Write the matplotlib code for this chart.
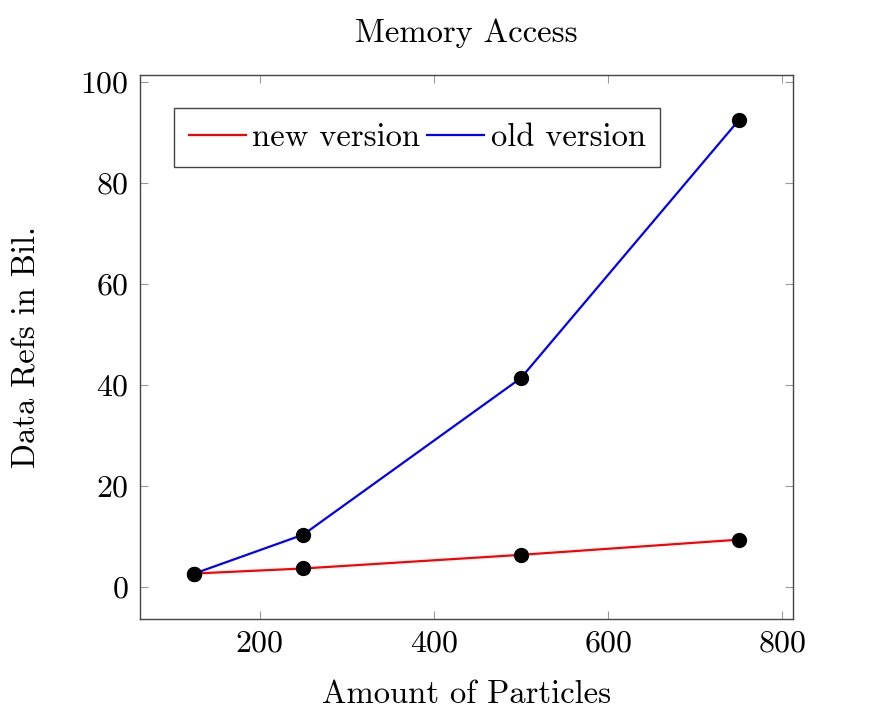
import matplotlib.pyplot as plt

plt.rcParams['font.family'] = 'serif'
plt.rcParams['font.serif'] = ['cmr10']
plt.rcParams['axes.formatter.use_mathtext'] = True
plt.rcParams['mathtext.fontset'] = 'cm'

# Data
particles = [125, 250, 500, 750]
new_version = [2.6, 3.6, 6.3, 9.3]
old_version = [2.6, 10.3, 41.3, 92.3]

xticks = [200, 400, 600, 800]
yticks = [0, 20, 40, 60, 80, 100]

fig = plt.figure(figsize=(8.83, 7.18), dpi=100)
ax = fig.add_axes([0.1586, 0.1379, 0.7394, 0.7576])

ax.plot(particles, new_version, color='red', lw=1.6, label='new version')
ax.plot(particles, old_version, color='blue', lw=1.6, label='old version')
ax.plot(particles, new_version, 'o', color='black', ms=10, zorder=3)
ax.plot(particles, old_version, 'o', color='black', ms=10, zorder=3)

ax.set_xlim(62.5, 812.5)
ax.set_ylim(-6.4, 101.3)
ax.set_xticks(xticks)
ax.set_yticks(yticks)
ax.tick_params(direction='in', top=True, right=True, length=6, color='#999999',
               labelsize=23, pad=8)
for s in ax.spines.values():
    s.set_color('#444444')
    s.set_linewidth(1.0)

ax.set_title('Memory Access', fontsize=23.5, pad=24)
ax.set_xlabel('Amount of Particles', fontsize=23.5, labelpad=16)
ax.set_ylabel('Data Refs in Bil.', fontsize=23.5, labelpad=28)

leg = ax.legend(loc='upper left', ncol=2, fontsize=23.5, fancybox=False,
                edgecolor='#444444', framealpha=1, handlelength=1.75,
                handletextpad=0.2, columnspacing=0.2, borderpad=0.45,
                borderaxespad=0, bbox_to_anchor=(0.052, 0.939))
leg.get_frame().set_linewidth(1.0)

plt.savefig('out.png')
